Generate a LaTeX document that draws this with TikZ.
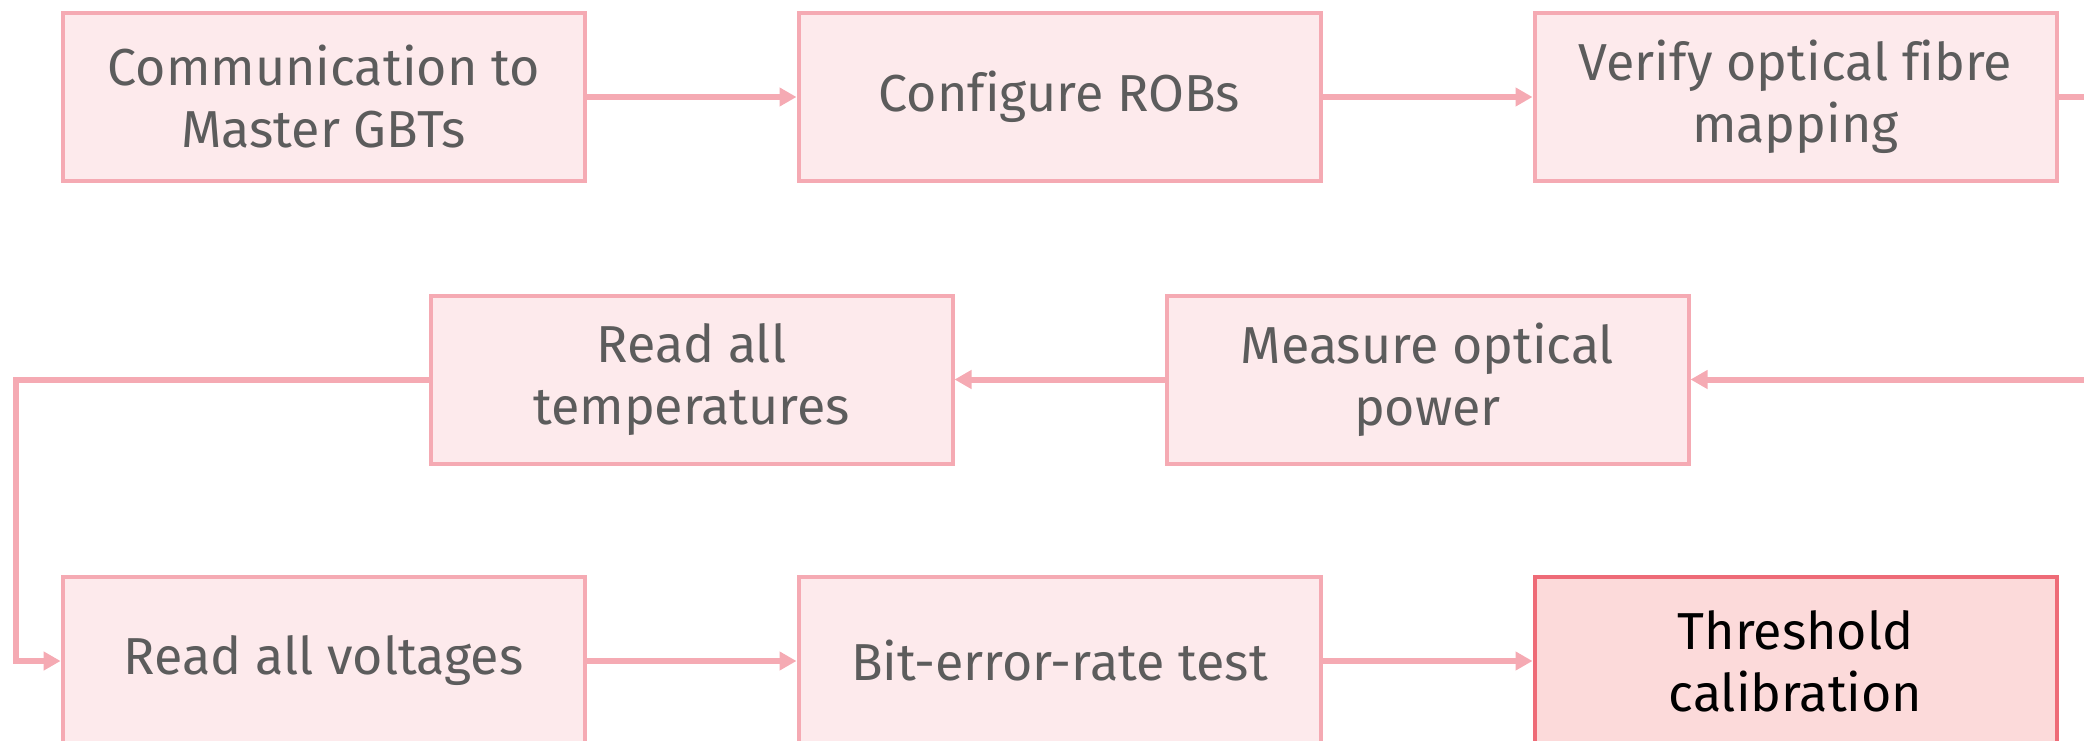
\documentclass[tikz,border=0pt]{standalone}
\usepackage{fontspec}
\setmainfont[Ligatures={NoCommon}]{Fira Sans}
\usetikzlibrary{arrows.meta}
\definecolor{boxfill}{HTML}{FDEAEC}
\definecolor{boxline}{HTML}{F5AAB3}
\definecolor{hotfill}{HTML}{FCDADA}
\definecolor{hotline}{HTML}{EE6B77}
\definecolor{txt}{HTML}{5C5C5C}
\tikzset{
  stepbox/.style={draw=boxline, fill=boxfill, line width=4pt, minimum width=522pt,
    minimum height=168pt, align=center, text=txt, inner sep=0pt,
    font=\fontsize{52}{62}\selectfont},
  hotbox/.style={stepbox, draw=hotline, fill=hotfill, text=black},
  flow/.style={draw=boxline, line width=6pt, -{Triangle[length=17pt,width=18pt]}},
}
\begin{document}
\begin{tikzpicture}[x=1pt,y=-1pt]
\useasboundingbox (0,0) rectangle (2084,741);
\clip (0,0) rectangle (2084,741);
% first row
\node[stepbox] (comm)   at (323.6,97)  {Communication to\\Master GBTs};
\node[stepbox] (robs)   at (1059.5,97) {Configure ROBs};
\node[stepbox] (fibre)  at (1795.5,97) {Verify optical fibre\\mapping};
% second row
\node[stepbox] (temps)  at (691.5,379.5)  {Read all\\temperatures};
\node[stepbox] (power)  at (1427.5,379.5) {Measure optical\\power};
% third row
\node[stepbox] (volts)  at (323.6,661)  {Read all voltages};
\node[stepbox] (ber)    at (1059.5,661) {Bit-error-rate test};
\node[hotbox]  (thresh) at (1795.5,661) {Threshold\\calibration};
% turning points of the loops
\coordinate (rc) at (2120,0);
\coordinate (lc) at (16,0);
% connectors
\draw[flow] (comm) -- (robs);
\draw[flow] (robs) -- (fibre);
\draw[flow] (fibre.east) -- (rc |- fibre.east) -- (rc |- power.east) -- (power.east);
\draw[flow] (power) -- (temps);
\draw[flow] (temps.west) -- (lc |- temps.west) -- (lc |- volts.west) -- (volts.west);
\draw[flow] (volts) -- (ber);
\draw[flow] (ber) -- (thresh);
\end{tikzpicture}
\end{document}
